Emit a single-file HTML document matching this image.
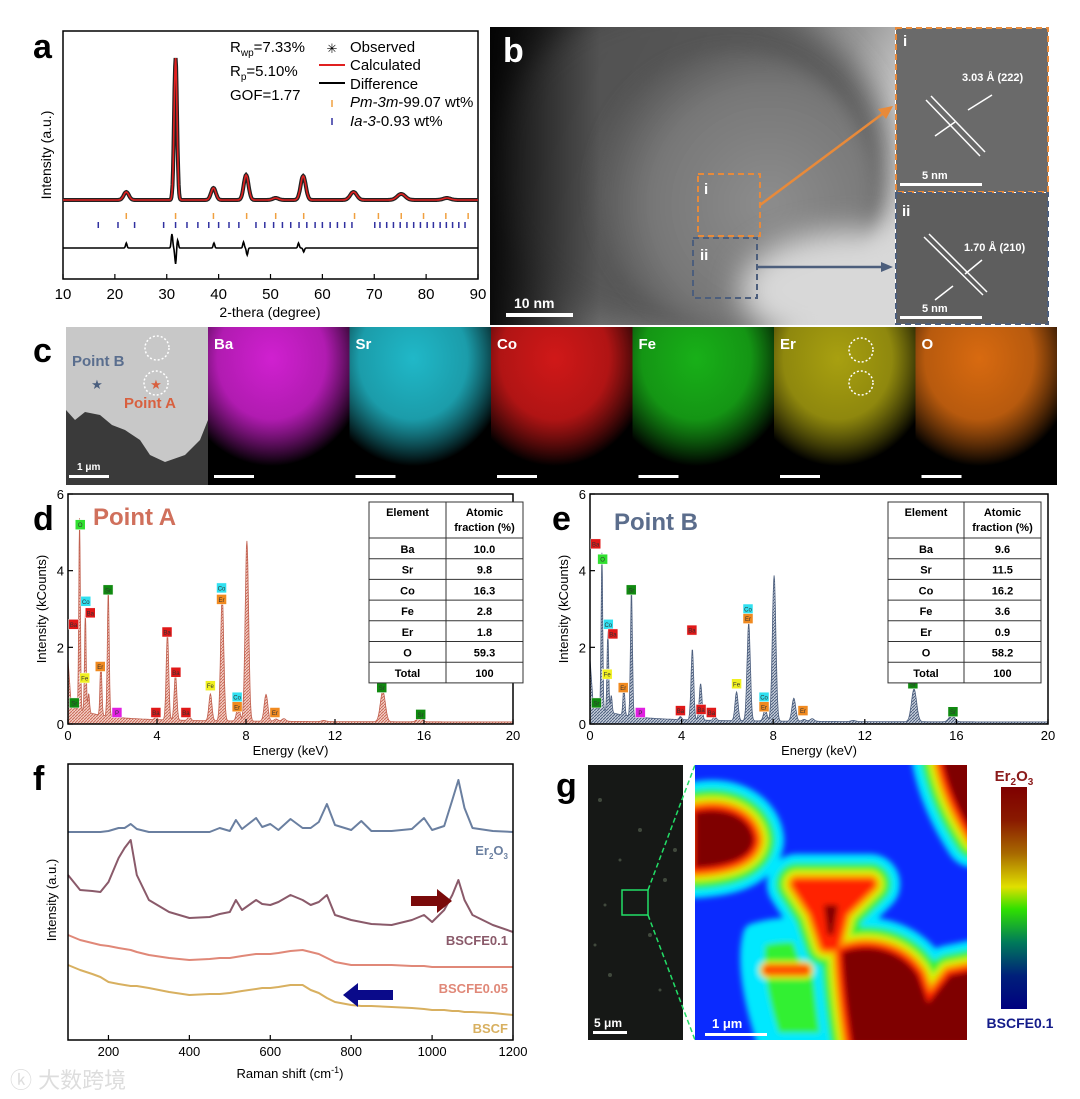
<!DOCTYPE html>
<html><head><meta charset="utf-8"><style>
html,body{margin:0;padding:0;background:#fff;}
svg{display:block;font-family:"Liberation Sans",Arial,sans-serif;}
</style></head><body>
<svg id="fig" width="1080" height="1099" viewBox="0 0 1080 1099" xmlns="http://www.w3.org/2000/svg">
<defs>
  <pattern id="hatchA" width="3" height="3" patternUnits="userSpaceOnUse"><rect width="3" height="3" fill="#f3cfc6"/><path d="M0,3 L3,0" stroke="#c96a58" stroke-width="1"/></pattern>
  <pattern id="hatchB" width="3" height="3" patternUnits="userSpaceOnUse"><rect width="3" height="3" fill="#c6cedb"/><path d="M0,3 L3,0" stroke="#4d5f7e" stroke-width="1"/></pattern>
  <radialGradient id="temBlob" cx="0.62" cy="0.55" r="0.6"><stop offset="0" stop-color="#8d8d8d"/><stop offset="0.7" stop-color="#777"/><stop offset="1" stop-color="#5a5a5a"/></radialGradient>
  <linearGradient id="temBg" x1="0" y1="0" x2="1" y2="0.4"><stop offset="0" stop-color="#1a1a1a"/><stop offset="0.35" stop-color="#4a4a4a"/><stop offset="0.8" stop-color="#9a9a9a"/><stop offset="1" stop-color="#d8d8d8"/></linearGradient>
  <linearGradient id="temDark" x1="0" y1="0" x2="1" y2="0"><stop offset="0" stop-color="#000" stop-opacity="0.85"/><stop offset="1" stop-color="#000" stop-opacity="0"/></linearGradient>
  <linearGradient id="cbar" x1="0" y1="0" x2="0" y2="1"><stop offset="0" stop-color="#7f0000"/><stop offset="0.15" stop-color="#8a1a00"/><stop offset="0.3" stop-color="#a86a00"/><stop offset="0.45" stop-color="#e0e000"/><stop offset="0.55" stop-color="#30e000"/><stop offset="0.7" stop-color="#007a5a"/><stop offset="0.85" stop-color="#00207a"/><stop offset="1" stop-color="#00007f"/></linearGradient>
  <filter id="blur8" x="-30%" y="-30%" width="160%" height="160%"><feGaussianBlur stdDeviation="8"/></filter>
  <filter id="blur3" x="-30%" y="-30%" width="160%" height="160%"><feGaussianBlur stdDeviation="3"/></filter>
  <filter id="blur15" x="-30%" y="-30%" width="160%" height="160%"><feGaussianBlur stdDeviation="15"/></filter>
  <clipPath id="hmClip"><rect x="695" y="765" width="272" height="275"/></clipPath>
  <clipPath id="temClip"><rect x="490" y="27" width="405" height="298"/></clipPath>
</defs>

<!-- ================= Panel a ================= -->
<g id="panelA">
  <text x="33" y="58" font-size="34" font-weight="bold">a</text>
  <rect x="63" y="31" width="415" height="248" fill="none" stroke="#000" stroke-width="1.5"/>
  <g id="aTicks"></g>
  <g id="aMarks"></g>
  <text x="270" y="317" font-size="14" text-anchor="middle">2-thera (degree)</text>
  <text transform="translate(51,155) rotate(-90)" font-size="14" text-anchor="middle">Intensity (a.u.)</text>
  <g font-size="15">
    <text x="230" y="52">R<tspan font-size="10" dy="4">wp</tspan><tspan dy="-4">=7.33%</tspan></text>
    <text x="230" y="76">R<tspan font-size="10" dy="4">p</tspan><tspan dy="-4">=5.10%</tspan></text>
    <text x="230" y="100">GOF=1.77</text>
  </g>
  <g font-size="15">
    <text x="332" y="53" font-size="13" text-anchor="middle">✳</text>
    <text x="350" y="52">Observed</text>
    <line x1="319" y1="65" x2="345" y2="65" stroke="#e02020" stroke-width="2"/>
    <text x="350" y="70">Calculated</text>
    <line x1="319" y1="83" x2="345" y2="83" stroke="#000" stroke-width="2"/>
    <text x="350" y="89">Difference</text>
    <line x1="332" y1="100" x2="332" y2="107" stroke="#f0a040" stroke-width="1.5"/>
    <text x="350" y="107"><tspan font-style="italic">Pm-3m</tspan>-99.07 wt%</text>
    <line x1="332" y1="118" x2="332" y2="125" stroke="#3030a0" stroke-width="1.5"/>
    <text x="350" y="126"><tspan font-style="italic">Ia-3</tspan>-0.93 wt%</text>
  </g>
</g>

<!-- ================= Panel b ================= -->
<g id="panelB">
  <rect x="490" y="27" width="405" height="298" fill="url(#temBg)"/>
  <g clip-path="url(#temClip)">
    <ellipse cx="690" cy="165" rx="200" ry="170" fill="#555" opacity="0.9" filter="url(#blur15)"/>
    <ellipse cx="735" cy="190" rx="140" ry="140" fill="url(#temBlob)" filter="url(#blur8)"/>
    <ellipse cx="860" cy="290" rx="120" ry="60" fill="#d8d8d8" filter="url(#blur15)"/>
  </g>
  <rect x="490" y="27" width="110" height="298" fill="url(#temDark)"/>
  <text x="503" y="62" font-size="34" font-weight="bold" fill="#fff">b</text>
  <rect x="698" y="174" width="62" height="62" fill="none" stroke="#e88a3a" stroke-width="2" stroke-dasharray="6,4"/>
  <text x="704" y="194" font-size="15" font-weight="bold" fill="#fff">i</text>
  <rect x="693" y="238" width="64" height="60" fill="none" stroke="#4c5e7c" stroke-width="2" stroke-dasharray="6,4"/>
  <text x="700" y="260" font-size="15" font-weight="bold" fill="#fff">ii</text>
  <line x1="760" y1="205" x2="885" y2="112" stroke="#e88a3a" stroke-width="2.5"/>
  <polygon points="893,106 878,109 886,119" fill="#e88a3a"/>
  <line x1="757" y1="267" x2="883" y2="267" stroke="#4c5e7c" stroke-width="2.5"/>
  <polygon points="893,267 881,262 881,272" fill="#4c5e7c"/>
  <rect x="506" y="313" width="67" height="4" fill="#fff"/>
  <text x="514" y="308" font-size="14" font-weight="bold" fill="#fff">10 nm</text>
  <g>
    <rect x="896" y="28" width="152" height="164" fill="#6a6a6a"/>
    <rect x="896" y="28" width="152" height="164" fill="none" stroke="#e88a3a" stroke-width="2" stroke-dasharray="6,4"/>
    <text x="903" y="46" font-size="15" font-weight="bold" fill="#fff">i</text>
    <line x1="926" y1="100" x2="980" y2="156" stroke="#fff" stroke-width="1.5"/>
    <line x1="931" y1="96" x2="985" y2="152" stroke="#fff" stroke-width="1.5"/>
    <line x1="992" y1="95" x2="968" y2="110" stroke="#fff" stroke-width="1.5"/>
    <line x1="935" y1="136" x2="955" y2="122" stroke="#fff" stroke-width="1.5"/>
    <text x="962" y="81" font-size="11" font-weight="bold" fill="#fff">3.03 Å (222)</text>
    <rect x="900" y="183" width="82" height="3" fill="#fff"/>
    <text x="922" y="179" font-size="11" font-weight="bold" fill="#fff">5 nm</text>
  </g>
  <g>
    <rect x="896" y="193" width="152" height="131" fill="#5e5e5e"/>
    <rect x="896" y="193" width="152" height="131" fill="none" stroke="#4c5e7c" stroke-width="2" stroke-dasharray="6,4"/>
    <text x="902" y="216" font-size="15" font-weight="bold" fill="#fff">ii</text>
    <line x1="924" y1="237" x2="983" y2="295" stroke="#fff" stroke-width="1.5"/>
    <line x1="929" y1="234" x2="987" y2="292" stroke="#fff" stroke-width="1.5"/>
    <line x1="982" y1="260" x2="965" y2="274" stroke="#fff" stroke-width="1.5"/>
    <line x1="935" y1="300" x2="953" y2="286" stroke="#fff" stroke-width="1.5"/>
    <text x="964" y="251" font-size="11" font-weight="bold" fill="#fff">1.70 Å (210)</text>
    <rect x="900" y="316" width="82" height="3" fill="#fff"/>
    <text x="922" y="312" font-size="11" font-weight="bold" fill="#fff">5 nm</text>
  </g>
</g>

<!-- ================= Panel c ================= -->
<g id="panelC">
  <text x="33" y="362" font-size="34" font-weight="bold">c</text>
  <g>
    <rect x="66" y="327" width="142" height="158" fill="#3a3a3a"/>
    <path d="M66,327 L208,327 L208,420 L200,440 L185,455 L165,462 L150,455 L140,440 L125,430 L112,425 L100,415 L85,412 L75,420 L66,410 Z" fill="#c8c8c8"/>
    <circle cx="157" cy="348" r="12" fill="none" stroke="#fff" stroke-width="1.5" stroke-dasharray="2,2"/>
    <circle cx="156" cy="383" r="12" fill="none" stroke="#fff" stroke-width="1.5" stroke-dasharray="2,2"/>
    <text x="72" y="366" font-size="15" font-weight="bold" fill="#5a6e8e">Point B</text>
    <text x="97" y="389" font-size="13" fill="#4a5e7e" text-anchor="middle">★</text>
    <text x="156" y="389" font-size="13" fill="#d8603f" text-anchor="middle">★</text>
    <text x="124" y="408" font-size="15" font-weight="bold" fill="#d8603f">Point A</text>
    <rect x="69" y="475" width="40" height="3" fill="#fff"/>
    <text x="77" y="470" font-size="10" font-weight="bold" fill="#fff">1 μm</text>
  </g>
  <g id="mapTiles"></g>
</g>

<g id="panelD">
  <text x="33" y="530" font-size="34" font-weight="bold">d</text>
  <text x="93" y="525" font-size="24" font-weight="bold" fill="#d0705c">Point A</text>
</g>
<g id="panelE">
  <text x="552" y="530" font-size="34" font-weight="bold">e</text>
  <text x="614" y="530" font-size="24" font-weight="bold" fill="#5b6d8c">Point B</text>
</g>

<g id="panelF">
  <text x="33" y="790" font-size="34" font-weight="bold">f</text>
</g>

<!-- ================= Panel g ================= -->
<g id="panelG">
  <text x="556" y="797" font-size="34" font-weight="bold">g</text>
  <rect x="588" y="765" width="95" height="275" fill="#161816"/>
  <g fill="#5f6b58" opacity="0.6">
    <circle cx="600" cy="800" r="2"/><circle cx="640" cy="830" r="2"/><circle cx="620" cy="860" r="1.5"/><circle cx="665" cy="880" r="2"/><circle cx="605" cy="905" r="1.5"/><circle cx="650" cy="935" r="2"/><circle cx="610" cy="975" r="2"/><circle cx="660" cy="990" r="1.5"/><circle cx="675" cy="850" r="2"/><circle cx="595" cy="945" r="1.5"/>
  </g>
  <rect x="622" y="890" width="26" height="25" fill="none" stroke="#22dd66" stroke-width="1.5"/>
  <line x1="648" y1="890" x2="695" y2="765" stroke="#22dd66" stroke-width="1.5" stroke-dasharray="5,3"/>
  <line x1="648" y1="915" x2="695" y2="1040" stroke="#22dd66" stroke-width="1.5" stroke-dasharray="5,3"/>
  <rect x="593" y="1031" width="34" height="3" fill="#fff"/>
  <text x="594" y="1027" font-size="12" font-weight="bold" fill="#fff">5 μm</text>
  <g clip-path="url(#hmClip)">
    <rect x="695" y="765" width="272" height="275" fill="#0a2aff"/>
    <g id="hmLayers" filter="url(#blur3)"></g>
  </g>
  <rect x="705" y="1033" width="62" height="3" fill="#fff"/>
  <text x="712" y="1028" font-size="13" font-weight="bold" fill="#fff">1 μm</text>
  <rect x="1001" y="787" width="26" height="222" fill="url(#cbar)"/>
  <text x="1014" y="781" font-size="15" font-weight="bold" fill="#8b1a1a" text-anchor="middle">Er<tspan font-size="10" dy="4">2</tspan><tspan dy="-4">O</tspan><tspan font-size="10" dy="4">3</tspan></text>
  <text x="1020" y="1028" font-size="14" font-weight="bold" fill="#141c8a" text-anchor="middle">BSCFE0.1</text>
</g>

<text x="10" y="1088" font-size="22" fill="#ddd">ⓚ 大数跨境</text>
</svg>

<script>
// ---------- Panel a data ----------
const xrdPeakPos = [22.2, 31.7, 39.0, 45.3, 51.0, 56.3, 66.0, 75.2, 84.0];
const xrdPeakHeight = [8, 142, 12, 25, 2, 24, 8, 6, 2];
const xrdPeakWidth = [0.7, 0.4, 0.65, 0.65, 0.8, 0.7, 0.9, 1.1, 1.0];
const diffPos = [22.2, 31.0, 31.7, 32.1, 39.1, 44.8, 45.5, 55.4, 56.4];
const diffAmp = [5, 14, -16, 8, 5, 6, -7, 5, -4];
const pm3mTicks = [22.2, 31.7, 39.0, 45.4, 51.0, 56.4, 66.2, 70.8, 75.2, 79.5, 83.8, 88.1];
const ia3Ticks = [16.8, 20.6, 23.8, 29.4, 31.7, 33.9, 36.0, 38.1, 40.0, 42.0, 43.9, 47.2, 48.9, 50.6, 52.3, 53.9, 55.5, 57.0, 58.6, 60.0, 61.5, 62.9, 64.3, 65.7, 70.1, 71.1, 72.4, 73.7, 75.0, 76.3, 77.6, 78.9, 80.2, 81.4, 82.7, 83.9, 85.1, 86.3, 87.5];
const xrdTickLabels = [10, 20, 30, 40, 50, 60, 70, 80, 90];

// ---------- Panel d/e data ----------
const edsPeakKeV = [0.52, 0.78, 0.93, 1.48, 1.81, 2.2, 3.95, 4.47, 4.83, 5.45, 6.4, 6.93, 7.65, 8.04, 8.9, 9.35, 9.7, 11.5, 14.15, 15.8];
const edsPointA = [5.0, 2.6, 0.5, 1.4, 3.3, 0.05, 0.08, 2.25, 1.2, 0.12, 0.7, 3.25, 0.4, 4.7, 0.7, 0.06, 0.07, 0.03, 0.8, 0.1];
const edsPointB = [4.1, 2.1, 0.45, 0.75, 3.3, 0.05, 0.08, 1.85, 0.95, 0.12, 0.75, 2.55, 0.3, 3.8, 0.6, 0.05, 0.07, 0.03, 0.85, 0.18];
const edsTickLabels = [0, 4, 8, 12, 16, 20];
const edsYTicks = [0, 2, 4, 6];
const tableElements = ["Ba", "Sr", "Co", "Fe", "Er", "O", "Total"];
const tableA = ["10.0", "9.8", "16.3", "2.8", "1.8", "59.3", "100"];
const tableB = ["9.6", "11.5", "16.2", "3.6", "0.9", "58.2", "100"];
const edsLabelText = ["Ba","O","Co","Ba","Sr","Fe","Er","Sr","P","Ba","Ba","Ba","Ba","Fe","Co","Er","Co","Er","Er","Sr","Sr"];
const edsLabelKeV = [0.25,0.55,0.8,1.0,1.8,0.75,1.45,0.28,2.2,3.95,4.45,4.85,5.3,6.4,6.9,6.9,7.6,7.6,9.3,14.1,15.85];
const edsLabelA = [2.6,5.2,3.2,2.9,3.5,1.2,1.5,0.55,0.3,0.3,2.4,1.35,0.3,1.0,3.55,3.25,0.7,0.45,0.3,0.95,0.25];
const edsLabelB = [4.7,4.3,2.6,2.35,3.5,1.3,0.95,0.55,0.3,0.35,2.45,0.38,0.3,1.05,3.0,2.75,0.7,0.45,0.35,1.05,0.32];
const edsLabelColor = {"Ba":"#e01818","O":"#30e030","Co":"#30e0f0","Sr":"#108a10","Fe":"#f0f020","Er":"#f08a20","P":"#e020e0"};

// ---------- Panel f data ----------
const ramanShift = [100,130,160,180,200,225,240,255,270,300,350,400,450,475,500,515,530,565,580,600,620,650,680,700,720,740,760,800,825,850,900,950,980,1000,1030,1050,1065,1080,1100,1150,1200];
const ramanEr2O3 = [208,208,208,208,209,212,212,216,211,208,208,208,208,212,209,220,211,222,213,216,210,221,212,212,218,236,215,210,219,209,209,211,222,210,214,240,260,232,212,209,208];
const ramanE01 = [165,150,149,148,158,182,192,200,165,140,128,122,123,126,128,140,130,140,136,135,138,145,140,135,138,145,125,120,118,116,115,120,125,118,130,145,160,140,125,115,108];
const ramanE005 = [105,100,97,95,94,92,91,90,88,85,82,80,81,82,82,83,84,86,86,86,87,89,90,88,86,82,78,75,75,75,75,74,74,73,73,73,73,73,73,73,73];
const ramanBSCF = [75,70,66,63,58,56,55,54,54,52,48,45,46,46,47,48,49,51,52,52,53,55,55,50,47,42,38,35,34,34,33,32,31,30,30,29,29,28,28,27,25];
const ramanTickLabels = [200, 400, 600, 800, 1000, 1200];

const NS = "http://www.w3.org/2000/svg";
const fig = document.getElementById("fig");
function mk(tag, attrs, parent) {
  const e = document.createElementNS(NS, tag);
  for (const k in attrs) e.setAttribute(k, attrs[k]);
  (parent || fig).appendChild(e);
  return e;
}

// ===== Panel a =====
(function(){
  const g = document.getElementById("aMarks");
  const tg = document.getElementById("aTicks");
  const x = v => 63 + (v - 10) / 80 * 415;
  const base = 200, dBase = 248;
  xrdTickLabels.forEach(v => {
    const t = mk("line", {x1:x(v), y1:279, x2:x(v), y2:274, stroke:"#000", "stroke-width":1.2}, tg);
    
    
    const l = mk("text", {x:x(v), y:299, "font-size":15, "text-anchor":"middle"}, tg);
    l.textContent = v;
    
    
  });
  let calc = "", diff = "";
  for (let t = 10; t <= 90.001; t += 0.1) {
    let y = 0, d = 0;
    xrdPeakPos.forEach((p, i) => { y += xrdPeakHeight[i] * Math.exp(-Math.pow((t - p) / xrdPeakWidth[i], 2)); });
    diffPos.forEach((p, i) => { d += diffAmp[i] * Math.exp(-Math.pow((t - p) / 0.2, 2)); });
    calc += (calc ? "L" : "M") + x(t).toFixed(1) + "," + (base - y).toFixed(1);
    diff += (diff ? "L" : "M") + x(t).toFixed(1) + "," + (dBase - d).toFixed(1);
  }
  const obs = mk("path", {d:calc, fill:"none", stroke:"#222", "stroke-width":4}, g);
  
  
  const cl = mk("path", {d:calc, fill:"none", stroke:"#e02020", "stroke-width":1.6}, g);
  
  
  const dl = mk("path", {d:diff, fill:"none", stroke:"#000", "stroke-width":1.6}, g);
  
  
  pm3mTicks.forEach(v => {
    const t = mk("line", {x1:x(v), y1:213, x2:x(v), y2:219, stroke:"#f0a040", "stroke-width":1.5}, g);
    
    
  });
  ia3Ticks.forEach(v => {
    const t = mk("line", {x1:x(v), y1:222, x2:x(v), y2:228, stroke:"#3030a0", "stroke-width":1.5}, g);
    
    
  });
})();

// ===== Panel c map tiles =====
(function(){
  const tg = document.getElementById("mapTiles");
  const names = ["Ba","Sr","Co","Fe","Er","O"];
  const cols = ["#d020d0","#20b8c8","#d01818","#18b018","#a8a010","#d86a10"];
  names.forEach((n, i) => {
    const x0 = 208 + i * 141.5;
    const grp = mk("g", {}, tg);
    
    
    const id = "mg" + i;
    const defs = mk("defs", {}, grp);
    const rg = mk("radialGradient", {id:id, cx:"0.45", cy:"0.2", r:"0.85"}, defs);
    mk("stop", {offset:"0", "stop-color":cols[i]}, rg);
    mk("stop", {offset:"0.45", "stop-color":cols[i], "stop-opacity":"0.85"}, rg);
    mk("stop", {offset:"0.8", "stop-color":"#000"}, rg);
    mk("rect", {x:x0, y:327, width:141.5, height:158, fill:"#000"}, grp);
    mk("rect", {x:x0, y:327, width:141.5, height:158, fill:"url(#" + id + ")"}, grp);
    const t = mk("text", {x:x0 + 6, y:349, "font-size":15, "font-weight":"bold", fill:"#fff"}, grp);
    t.textContent = n;
    mk("rect", {x:x0 + 6, y:475, width:40, height:3, fill:"#fff"}, grp);
    if (n === "Er") {
      mk("circle", {cx:x0 + 87, cy:350, r:12, fill:"none", stroke:"#fff", "stroke-width":1.5, "stroke-dasharray":"2,2"}, grp);
      mk("circle", {cx:x0 + 87, cy:383, r:12, fill:"none", stroke:"#fff", "stroke-width":1.5, "stroke-dasharray":"2,2"}, grp);
    }
  });
})();

// ===== Panel g heatmap layers =====
(function(){
  const g = document.getElementById("hmLayers");
  const feats = [
    "M695,812 C730,805 752,820 754,840 C752,858 730,866 695,868 Z",
    "M797,884 L870,884 L842,912 L834,945 L826,945 L815,912 Z",
    "M842,952 C870,942 902,950 918,975 L928,1003 L950,975 L975,970 L975,1045 L852,1045 C846,1005 843,975 842,952 Z",
    "M942,760 L975,760 L975,838 C960,815 948,790 942,760 Z",
    "M768,970 L805,970"
  ];
  const layers = [["#00e8ff", 60], ["#30f030", 42], ["#d8f000", 28], ["#ff9000", 18], ["#ff2000", 10], ["#7f0000", 0]];
  const cy = mk("path", {d:"M755,935 C790,925 830,930 845,950 L850,1045 L770,1045 C755,1000 748,960 755,935 Z", fill:"#30f030", stroke:"#00e8ff", "stroke-width":24, "stroke-linejoin":"round"}, g);
  
  
  layers.forEach(L => {
    feats.forEach((d, i) => {
      if (i === 4) {
        if (L[1] > 30) return;
        mk("path", {d:d, fill:"none", stroke:L[1] ? L[0] : "#ff6000", "stroke-width":L[1] ? L[1] / 2 + 4 : 4, "stroke-linecap":"round"}, g);
        return;
      }
      const col = (i === 1 && L[1] === 0) ? "#ff2000" : L[0];
      const p = mk("path", {d:d, fill:col, stroke:L[1] ? col : "none", "stroke-width":L[1], "stroke-linejoin":"round"}, g);
      
      
    });
  });
  mk("path", {d:"M824,905 L838,905 L833,935 L828,935 Z", fill:"#7f0000"}, g);
})();

// ===== Panel d/e EDS =====
function drawEDS(parent, x0, x1, vals, labelY, fillId, strokeCol, tab, tx0, tx1, tsplit, nameTag) {
  const g = document.getElementById(parent);
  const y0 = 724, y1 = 494;
  const x = v => x0 + v / 20 * (x1 - x0);
  const y = v => y0 - v / 6 * (y0 - y1);
  let d = "M" + x(0) + "," + y(0);
  for (let e = 0; e <= 20.001; e += 0.02) {
    let v = 0.05 + 0.35 * Math.exp(-e / 1.2) + 0.1 * Math.exp(-e / 6);
    if (e < 0.15) v += 1.2 * (0.15 - e) / 0.15;
    edsPeakKeV.forEach((p, i) => {
      const w = 0.045 + 0.008 * p;
      v += vals[i] * Math.exp(-Math.pow((e - p) / w, 2));
    });
    d += "L" + x(e).toFixed(1) + "," + y(v).toFixed(1);
  }
  d += "L" + x(20) + "," + y(0) + "Z";
  const sp = mk("path", {d:d, fill:"url(#" + fillId + ")", stroke:strokeCol, "stroke-width":0.8}, g);
  
  
  const fr = mk("rect", {x:x0, y:y1, width:x1 - x0, height:y0 - y1, fill:"none", stroke:"#000", "stroke-width":1.5}, g);
  
  
  edsTickLabels.forEach(v => {
    mk("line", {x1:x(v), y1:y0, x2:x(v), y2:y0 - 5, stroke:"#000", "stroke-width":1.2}, g);
    const t = mk("text", {x:x(v), y:y0 + 16, "font-size":13, "text-anchor":"middle"}, g);
    t.textContent = v;
    
    
  });
  edsYTicks.forEach(v => {
    mk("line", {x1:x0, y1:y(v), x2:x0 + 5, y2:y(v), stroke:"#000", "stroke-width":1.2}, g);
    const t = mk("text", {x:x0 - 4, y:y(v) + 5, "font-size":13, "text-anchor":"end"}, g);
    t.textContent = v;
    
    
  });
  const xt = mk("text", {x:(x0 + x1) / 2, y:y0 + 31, "font-size":13, "text-anchor":"middle"}, g);
  xt.textContent = "Energy (keV)";
  
  
  const yt = mk("text", {transform:"translate(" + (x0 - 22) + ",609) rotate(-90)", "font-size":13, "text-anchor":"middle"}, g);
  yt.textContent = "Intensity (kCounts)";
  
  
  edsLabelText.forEach((s, i) => {
    const cx = x(edsLabelKeV[i]), cy = y(labelY[i]);
    const b = mk("rect", {x:cx - 5, y:cy - 5, width:10, height:10, fill:edsLabelColor[s], stroke:"#fff", "stroke-width":0.5}, g);
    
    
    const t = mk("text", {x:cx, y:cy + 2.5, "font-size":6, "text-anchor":"middle", fill:"#333"}, g);
    t.textContent = s;
  });
  const tb = mk("g", {}, g);
  
  
  const ty0 = 502, hh = 36, rh = 20.7;
  mk("rect", {x:tx0, y:ty0, width:tx1 - tx0, height:hh + rh * 7, fill:"#fff", stroke:"#333", "stroke-width":1}, tb);
  mk("line", {x1:tsplit, y1:ty0, x2:tsplit, y2:ty0 + hh + rh * 7, stroke:"#333"}, tb);
  const h1 = mk("text", {x:(tx0 + tsplit) / 2, y:ty0 + 14, "font-size":11, "font-weight":"bold", "text-anchor":"middle"}, tb);
  h1.textContent = "Element";
  const h2 = mk("text", {x:(tsplit + tx1) / 2, y:ty0 + 14, "font-size":11, "font-weight":"bold", "text-anchor":"middle"}, tb);
  h2.textContent = "Atomic";
  const h3 = mk("text", {x:(tsplit + tx1) / 2, y:ty0 + 29, "font-size":11, "font-weight":"bold", "text-anchor":"middle"}, tb);
  h3.textContent = "fraction (%)";
  tableElements.forEach((el, i) => {
    const ry = ty0 + hh + rh * i;
    mk("line", {x1:tx0, y1:ry, x2:tx1, y2:ry, stroke:"#333"}, tb);
    const a = mk("text", {x:(tx0 + tsplit) / 2, y:ry + 15, "font-size":11, "font-weight":"bold", "text-anchor":"middle"}, tb);
    a.textContent = el;
    const b = mk("text", {x:(tsplit + tx1) / 2, y:ry + 15, "font-size":11, "font-weight":"bold", "text-anchor":"middle"}, tb);
    b.textContent = tab[i];
  });
}
drawEDS("panelD", 68, 513, edsPointA, edsLabelA, "hatchA", "#c0604f", tableA, 369, 523, 446, "d");
drawEDS("panelE", 590, 1048, edsPointB, edsLabelB, "hatchB", "#4d5f7e", tableB, 888, 1041, 964, "e");

// ===== Panel f Raman =====
(function(){
  const g = document.getElementById("panelF");
  const x0 = 68, x1 = 513, yb = 1040, yt = 764;
  const x = v => x0 + (v - 100) / 1100 * (x1 - x0);
  const y = v => yb - v;
  const series = [[ramanEr2O3, "#6a7fa0", "er2o3"], [ramanE01, "#8a5a6a", "bscfe0-1"], [ramanE005, "#e08878", "bscfe0-05"], [ramanBSCF, "#d8b060", "bscf"]];
  series.forEach(s => {
    let d = "";
    ramanShift.forEach((r, i) => { d += (i ? "L" : "M") + x(r).toFixed(1) + "," + y(s[0][i]).toFixed(1); });
    const p = mk("path", {d:d, fill:"none", stroke:s[1], "stroke-width":2, "stroke-linejoin":"round"}, g);
    
    
  });
  const fr = mk("rect", {x:x0, y:yt, width:x1 - x0, height:yb - yt, fill:"none", stroke:"#000", "stroke-width":1.5}, g);
  
  
  ramanTickLabels.forEach(v => {
    mk("line", {x1:x(v), y1:yb, x2:x(v), y2:yb - 5, stroke:"#000", "stroke-width":1.2}, g);
    const t = mk("text", {x:x(v), y:yb + 16, "font-size":13, "text-anchor":"middle"}, g);
    t.textContent = v;
    
    
  });
  const xt = mk("text", {x:290, y:1078, "font-size":13, "text-anchor":"middle"}, g);
  xt.innerHTML = 'Raman shift (cm<tspan font-size="9" dy="-5">-1</tspan><tspan dy="5">)</tspan>';
  
  
  const ya = mk("text", {transform:"translate(56,900) rotate(-90)", "font-size":13, "text-anchor":"middle"}, g);
  ya.textContent = "Intensity (a.u.)";
  
  
  const labels = [["Er", 855, "#6a7fa0", "label-er2o3"], ["BSCFE0.1", 945, "#8a5a6a", "label-bscfe0-1"], ["BSCFE0.05", 993, "#e08878", "label-bscfe0-05"], ["BSCF", 1033, "#d8b060", "label-bscf"]];
  labels.forEach(l => {
    const t = mk("text", {x:508, y:l[1], "font-size":13, "font-weight":"bold", fill:l[2], "text-anchor":"end"}, g);
    if (l[0] === "Er") t.innerHTML = 'Er<tspan font-size="8" dy="4">2</tspan><tspan dy="-4">O</tspan><tspan font-size="8" dy="4">3</tspan>';
    else t.textContent = l[0];
    
    
  });
  const a1 = mk("path", {d:"M411,896 L437,896 L437,889 L452,901 L437,913 L437,906 L411,906 Z", fill:"#7a0a0a"}, g);
  
  
  const a2 = mk("path", {d:"M393,990 L358,990 L358,983 L343,995 L358,1007 L358,1000 L393,1000 Z", fill:"#0a0a8a"}, g);
  
  
})();
</script>
</body></html>
